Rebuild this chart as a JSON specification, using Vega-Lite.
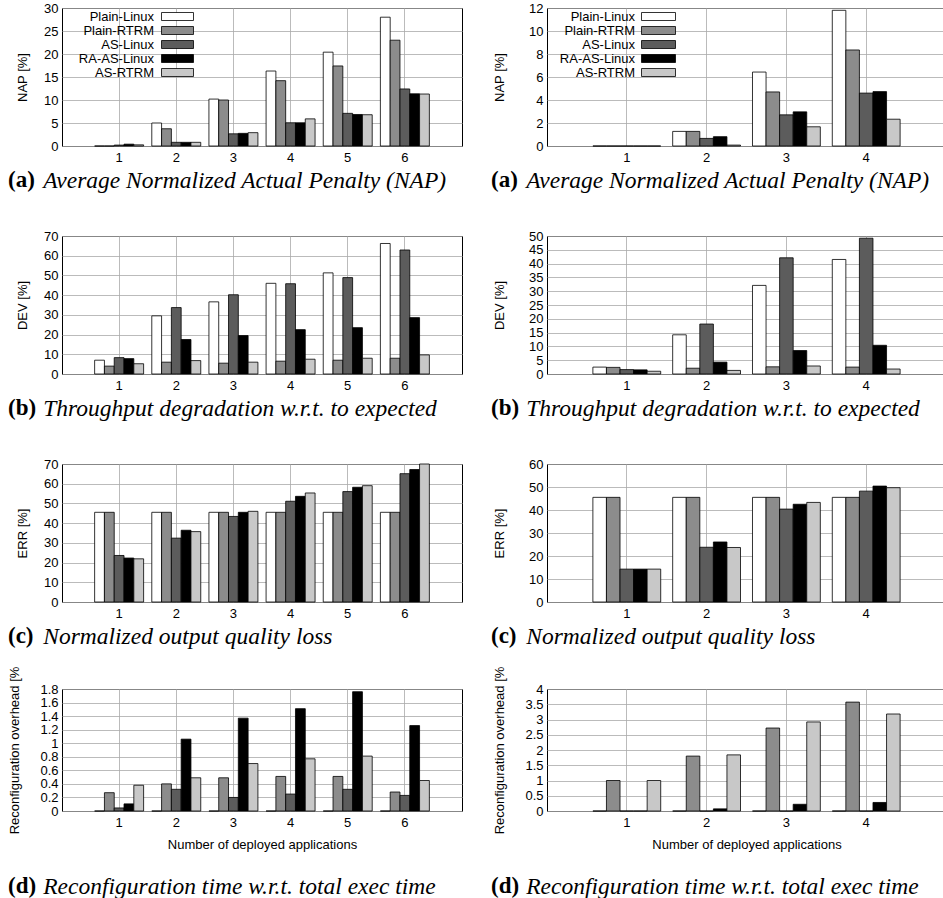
{
 "$schema": "https://vega.github.io/schema/vega-lite/v6.json",
 "padding": {"left": 7, "top": 1, "right": 0, "bottom": 0},
 "background": "white",
 "config": {
  "font": "Liberation Sans",
  "view": {"stroke": "black", "strokeWidth": 1},
  "axis": {"labelFont": "Liberation Sans", "labelFontSize": 13, "labelColor": "black", "titleFont": "Liberation Sans", "titleFontSize": 13, "titleFontWeight": "normal", "titleColor": "black", "gridColor": "#aaaaaa", "gridWidth": 0.8, "domain": false, "ticks": false, "labelPadding": 4},
  "axisX": {"labelAngle": 0, "labelPadding": 5, "title": null, "grid": true, "bandPosition": 0.5},
  "title": {"font": "Liberation Serif", "fontSize": 23, "fontWeight": "bold", "fontStyle": "normal", "subtitleFont": "Liberation Serif", "subtitleFontSize": 23.5, "subtitleFontStyle": "italic", "subtitleFontWeight": "normal", "subtitlePadding": -23.3, "orient": "bottom", "anchor": "start", "frame": "group", "color": "black", "subtitleColor": "black", "offset": 5},
  "bar": {"stroke": "black", "strokeWidth": 0.8}
 },
 "datasets": {
  "nap6": [
   {"n":1,"s":"Plain-Linux","v":0},{"n":1,"s":"Plain-RTRM","v":0},{"n":1,"s":"AS-Linux","v":0.2},{"n":1,"s":"RA-AS-Linux","v":0.4},{"n":1,"s":"AS-RTRM","v":0.25},
   {"n":2,"s":"Plain-Linux","v":5.0},{"n":2,"s":"Plain-RTRM","v":3.75},{"n":2,"s":"AS-Linux","v":0.8},{"n":2,"s":"RA-AS-Linux","v":0.8},{"n":2,"s":"AS-RTRM","v":0.8},
   {"n":3,"s":"Plain-Linux","v":10.2},{"n":3,"s":"Plain-RTRM","v":10.0},{"n":3,"s":"AS-Linux","v":2.65},{"n":3,"s":"RA-AS-Linux","v":2.75},{"n":3,"s":"AS-RTRM","v":2.9},
   {"n":4,"s":"Plain-Linux","v":16.3},{"n":4,"s":"Plain-RTRM","v":14.2},{"n":4,"s":"AS-Linux","v":5.05},{"n":4,"s":"RA-AS-Linux","v":5.05},{"n":4,"s":"AS-RTRM","v":5.9},
   {"n":5,"s":"Plain-Linux","v":20.4},{"n":5,"s":"Plain-RTRM","v":17.4},{"n":5,"s":"AS-Linux","v":7.1},{"n":5,"s":"RA-AS-Linux","v":6.85},{"n":5,"s":"AS-RTRM","v":6.8},
   {"n":6,"s":"Plain-Linux","v":28.0},{"n":6,"s":"Plain-RTRM","v":23.0},{"n":6,"s":"AS-Linux","v":12.4},{"n":6,"s":"RA-AS-Linux","v":11.35},{"n":6,"s":"AS-RTRM","v":11.3}
  ],
  "nap4": [
   {"n":1,"s":"Plain-Linux","v":0},{"n":1,"s":"Plain-RTRM","v":0},{"n":1,"s":"AS-Linux","v":0},{"n":1,"s":"RA-AS-Linux","v":0},{"n":1,"s":"AS-RTRM","v":0},
   {"n":2,"s":"Plain-Linux","v":1.27},{"n":2,"s":"Plain-RTRM","v":1.27},{"n":2,"s":"AS-Linux","v":0.66},{"n":2,"s":"RA-AS-Linux","v":0.81},{"n":2,"s":"AS-RTRM","v":0.08},
   {"n":3,"s":"Plain-Linux","v":6.43},{"n":3,"s":"Plain-RTRM","v":4.7},{"n":3,"s":"AS-Linux","v":2.71},{"n":3,"s":"RA-AS-Linux","v":2.97},{"n":3,"s":"AS-RTRM","v":1.67},
   {"n":4,"s":"Plain-Linux","v":11.8},{"n":4,"s":"Plain-RTRM","v":8.35},{"n":4,"s":"AS-Linux","v":4.6},{"n":4,"s":"RA-AS-Linux","v":4.73},{"n":4,"s":"AS-RTRM","v":2.33}
  ],
  "dev6": [
   {"n":1,"s":"Plain-Linux","v":7.0},{"n":1,"s":"Plain-RTRM","v":4.0},{"n":1,"s":"AS-Linux","v":8.3},{"n":1,"s":"RA-AS-Linux","v":7.8},{"n":1,"s":"AS-RTRM","v":5.2},
   {"n":2,"s":"Plain-Linux","v":29.5},{"n":2,"s":"Plain-RTRM","v":6.0},{"n":2,"s":"AS-Linux","v":33.7},{"n":2,"s":"RA-AS-Linux","v":17.5},{"n":2,"s":"AS-RTRM","v":6.8},
   {"n":3,"s":"Plain-Linux","v":36.6},{"n":3,"s":"Plain-RTRM","v":5.5},{"n":3,"s":"AS-Linux","v":40.2},{"n":3,"s":"RA-AS-Linux","v":19.5},{"n":3,"s":"AS-RTRM","v":6.0},
   {"n":4,"s":"Plain-Linux","v":46.0},{"n":4,"s":"Plain-RTRM","v":6.5},{"n":4,"s":"AS-Linux","v":45.8},{"n":4,"s":"RA-AS-Linux","v":22.5},{"n":4,"s":"AS-RTRM","v":7.5},
   {"n":5,"s":"Plain-Linux","v":51.3},{"n":5,"s":"Plain-RTRM","v":7.0},{"n":5,"s":"AS-Linux","v":48.9},{"n":5,"s":"RA-AS-Linux","v":23.5},{"n":5,"s":"AS-RTRM","v":8.0},
   {"n":6,"s":"Plain-Linux","v":66.2},{"n":6,"s":"Plain-RTRM","v":8.0},{"n":6,"s":"AS-Linux","v":62.9},{"n":6,"s":"RA-AS-Linux","v":28.6},{"n":6,"s":"AS-RTRM","v":9.7}
  ],
  "dev4": [
   {"n":1,"s":"Plain-Linux","v":2.5},{"n":1,"s":"Plain-RTRM","v":2.4},{"n":1,"s":"AS-Linux","v":1.6},{"n":1,"s":"RA-AS-Linux","v":1.5},{"n":1,"s":"AS-RTRM","v":1.0},
   {"n":2,"s":"Plain-Linux","v":14.2},{"n":2,"s":"Plain-RTRM","v":2.1},{"n":2,"s":"AS-Linux","v":18.1},{"n":2,"s":"RA-AS-Linux","v":4.3},{"n":2,"s":"AS-RTRM","v":1.3},
   {"n":3,"s":"Plain-Linux","v":32.1},{"n":3,"s":"Plain-RTRM","v":2.6},{"n":3,"s":"AS-Linux","v":42.1},{"n":3,"s":"RA-AS-Linux","v":8.5},{"n":3,"s":"AS-RTRM","v":2.9},
   {"n":4,"s":"Plain-Linux","v":41.5},{"n":4,"s":"Plain-RTRM","v":2.5},{"n":4,"s":"AS-Linux","v":49.2},{"n":4,"s":"RA-AS-Linux","v":10.4},{"n":4,"s":"AS-RTRM","v":1.8}
  ],
  "err6": [
   {"n":1,"s":"Plain-Linux","v":45.5},{"n":1,"s":"Plain-RTRM","v":45.5},{"n":1,"s":"AS-Linux","v":23.6},{"n":1,"s":"RA-AS-Linux","v":22.3},{"n":1,"s":"AS-RTRM","v":21.9},
   {"n":2,"s":"Plain-Linux","v":45.5},{"n":2,"s":"Plain-RTRM","v":45.5},{"n":2,"s":"AS-Linux","v":32.4},{"n":2,"s":"RA-AS-Linux","v":36.4},{"n":2,"s":"AS-RTRM","v":35.7},
   {"n":3,"s":"Plain-Linux","v":45.5},{"n":3,"s":"Plain-RTRM","v":45.5},{"n":3,"s":"AS-Linux","v":43.4},{"n":3,"s":"RA-AS-Linux","v":45.5},{"n":3,"s":"AS-RTRM","v":46.0},
   {"n":4,"s":"Plain-Linux","v":45.5},{"n":4,"s":"Plain-RTRM","v":45.5},{"n":4,"s":"AS-Linux","v":51.1},{"n":4,"s":"RA-AS-Linux","v":53.6},{"n":4,"s":"AS-RTRM","v":55.3},
   {"n":5,"s":"Plain-Linux","v":45.5},{"n":5,"s":"Plain-RTRM","v":45.5},{"n":5,"s":"AS-Linux","v":56.0},{"n":5,"s":"RA-AS-Linux","v":58.2},{"n":5,"s":"AS-RTRM","v":59.0},
   {"n":6,"s":"Plain-Linux","v":45.5},{"n":6,"s":"Plain-RTRM","v":45.5},{"n":6,"s":"AS-Linux","v":65.1},{"n":6,"s":"RA-AS-Linux","v":67.2},{"n":6,"s":"AS-RTRM","v":70.0}
  ],
  "err4": [
   {"n":1,"s":"Plain-Linux","v":45.5},{"n":1,"s":"Plain-RTRM","v":45.5},{"n":1,"s":"AS-Linux","v":14.3},{"n":1,"s":"RA-AS-Linux","v":14.3},{"n":1,"s":"AS-RTRM","v":14.3},
   {"n":2,"s":"Plain-Linux","v":45.5},{"n":2,"s":"Plain-RTRM","v":45.5},{"n":2,"s":"AS-Linux","v":23.8},{"n":2,"s":"RA-AS-Linux","v":26.1},{"n":2,"s":"AS-RTRM","v":23.7},
   {"n":3,"s":"Plain-Linux","v":45.5},{"n":3,"s":"Plain-RTRM","v":45.5},{"n":3,"s":"AS-Linux","v":40.4},{"n":3,"s":"RA-AS-Linux","v":42.5},{"n":3,"s":"AS-RTRM","v":43.3},
   {"n":4,"s":"Plain-Linux","v":45.5},{"n":4,"s":"Plain-RTRM","v":45.5},{"n":4,"s":"AS-Linux","v":48.2},{"n":4,"s":"RA-AS-Linux","v":50.4},{"n":4,"s":"AS-RTRM","v":49.7}
  ],
  "rc6": [
   {"n":1,"s":"Plain-Linux","v":0},{"n":1,"s":"Plain-RTRM","v":0.27},{"n":1,"s":"AS-Linux","v":0.045},{"n":1,"s":"RA-AS-Linux","v":0.105},{"n":1,"s":"AS-RTRM","v":0.38},
   {"n":2,"s":"Plain-Linux","v":0},{"n":2,"s":"Plain-RTRM","v":0.4},{"n":2,"s":"AS-Linux","v":0.32},{"n":2,"s":"RA-AS-Linux","v":1.06},{"n":2,"s":"AS-RTRM","v":0.49},
   {"n":3,"s":"Plain-Linux","v":0},{"n":3,"s":"Plain-RTRM","v":0.49},{"n":3,"s":"AS-Linux","v":0.2},{"n":3,"s":"RA-AS-Linux","v":1.37},{"n":3,"s":"AS-RTRM","v":0.7},
   {"n":4,"s":"Plain-Linux","v":0},{"n":4,"s":"Plain-RTRM","v":0.51},{"n":4,"s":"AS-Linux","v":0.25},{"n":4,"s":"RA-AS-Linux","v":1.51},{"n":4,"s":"AS-RTRM","v":0.77},
   {"n":5,"s":"Plain-Linux","v":0},{"n":5,"s":"Plain-RTRM","v":0.51},{"n":5,"s":"AS-Linux","v":0.32},{"n":5,"s":"RA-AS-Linux","v":1.76},{"n":5,"s":"AS-RTRM","v":0.81},
   {"n":6,"s":"Plain-Linux","v":0},{"n":6,"s":"Plain-RTRM","v":0.28},{"n":6,"s":"AS-Linux","v":0.23},{"n":6,"s":"RA-AS-Linux","v":1.26},{"n":6,"s":"AS-RTRM","v":0.45}
  ],
  "rc4": [
   {"n":1,"s":"Plain-Linux","v":0},{"n":1,"s":"Plain-RTRM","v":1.0},{"n":1,"s":"AS-Linux","v":0},{"n":1,"s":"RA-AS-Linux","v":0},{"n":1,"s":"AS-RTRM","v":1.0},
   {"n":2,"s":"Plain-Linux","v":0},{"n":2,"s":"Plain-RTRM","v":1.8},{"n":2,"s":"AS-Linux","v":0},{"n":2,"s":"RA-AS-Linux","v":0.07},{"n":2,"s":"AS-RTRM","v":1.84},
   {"n":3,"s":"Plain-Linux","v":0},{"n":3,"s":"Plain-RTRM","v":2.72},{"n":3,"s":"AS-Linux","v":0},{"n":3,"s":"RA-AS-Linux","v":0.22},{"n":3,"s":"AS-RTRM","v":2.92},
   {"n":4,"s":"Plain-Linux","v":0},{"n":4,"s":"Plain-RTRM","v":3.57},{"n":4,"s":"AS-Linux","v":0},{"n":4,"s":"RA-AS-Linux","v":0.28},{"n":4,"s":"AS-RTRM","v":3.18}
  ]
 },
 "resolve": {"scale": {"fill": "independent", "xOffset": "independent"}, "legend": {"fill": "independent"}},
 "spacing": 16,
 "vconcat": [
  {
   "spacing": 36,
   "resolve": {"scale": {"fill": "independent", "xOffset": "independent"}, "legend": {"fill": "independent"}},
   "vconcat": [
    {
     "spacing": 27,
     "resolve": {"scale": {"fill": "independent", "xOffset": "independent"}, "legend": {"fill": "independent"}},
     "hconcat": [
      {
       "width": 400, "height": 138,
       "data": {"name": "nap6"},
       "mark": "bar",
       "title": {"text": "(a)", "subtitle": "\u200b\u00a0\u00a0\u00a0\u00a0\u00a0\u00a0Average Normalized Actual Penalty (NAP)", "dx": -54},
       "encoding": {
        "x": {"field": "n", "type": "ordinal", "scale": {"paddingInner": 0.143, "paddingOuter": 0.571}},
        "xOffset": {"field": "s", "type": "nominal", "scale": {"domain": ["Plain-Linux","Plain-RTRM","AS-Linux","RA-AS-Linux","AS-RTRM"], "paddingInner": 0, "paddingOuter": 0}},
        "y": {"field": "v", "type": "quantitative", "scale": {"domain": [0, 30], "nice": false}, "axis": {"values": [0,5,10,15,20,25,30], "title": "NAP [%]", "minExtent": 22, "maxExtent": 22, "titlePadding": 11}},
        "fill": {"field": "s", "type": "nominal", "scale": {"domain": ["Plain-Linux","Plain-RTRM","AS-Linux","RA-AS-Linux","AS-RTRM"], "range": ["#ffffff","#8c8c8c","#5c5c5c","#000000","#c8c8c8"]},
         "legend": {"orient": "none", "legendX": 109, "legendY": 2, "title": null, "symbolType": "M-4,-1H4V1H-4Z", "symbolSize": 64, "symbolStrokeColor": "black", "symbolStrokeWidth": 1, "labelAlign": "right", "labelOffset": -30, "labelFontSize": 13, "labelFont": "Liberation Sans", "labelColor": "black", "rowPadding": -1.5, "padding": 0}}
       }
      },
      {
       "width": 399, "height": 138,
       "data": {"name": "nap4"},
       "mark": "bar",
       "title": {"text": "(a)", "subtitle": "\u200b\u00a0\u00a0\u00a0\u00a0\u00a0\u00a0Average Normalized Actual Penalty (NAP)", "dx": -56},
       "encoding": {
        "x": {"field": "n", "type": "ordinal", "scale": {"paddingInner": 0.15, "paddingOuter": 0.575}},
        "xOffset": {"field": "s", "type": "nominal", "scale": {"domain": ["Plain-Linux","Plain-RTRM","AS-Linux","RA-AS-Linux","AS-RTRM"], "paddingInner": 0, "paddingOuter": 0}},
        "y": {"field": "v", "type": "quantitative", "scale": {"domain": [0, 12], "nice": false}, "axis": {"values": [0,2,4,6,8,10,12], "title": "NAP [%]", "minExtent": 26, "maxExtent": 26, "titlePadding": 15}},
        "fill": {"field": "s", "type": "nominal", "scale": {"domain": ["Plain-Linux","Plain-RTRM","AS-Linux","RA-AS-Linux","AS-RTRM"], "range": ["#ffffff","#8c8c8c","#5c5c5c","#000000","#c8c8c8"]},
         "legend": {"orient": "none", "legendX": 105, "legendY": 2, "title": null, "symbolType": "M-4.25,-1H4.25V1H-4.25Z", "symbolSize": 64, "symbolStrokeColor": "black", "symbolStrokeWidth": 1, "labelAlign": "right", "labelOffset": -30, "labelFontSize": 13, "labelFont": "Liberation Sans", "labelColor": "black", "rowPadding": -1.5, "padding": 0}}
       }
      }
     ]
    },
    {
     "spacing": 27,
     "resolve": {"scale": {"fill": "independent", "xOffset": "independent"}, "legend": {"fill": "independent"}},
     "hconcat": [
      {
       "width": 400, "height": 138,
       "data": {"name": "dev6"},
       "mark": "bar",
       "title": {"text": "(b)", "subtitle": "\u200b\u00a0\u00a0\u00a0\u00a0\u00a0\u00a0Throughput degradation w.r.t. to expected", "dx": -54},
       "encoding": {
        "x": {"field": "n", "type": "ordinal", "scale": {"paddingInner": 0.143, "paddingOuter": 0.571}},
        "xOffset": {"field": "s", "type": "nominal", "scale": {"domain": ["Plain-Linux","Plain-RTRM","AS-Linux","RA-AS-Linux","AS-RTRM"], "paddingInner": 0, "paddingOuter": 0}},
        "y": {"field": "v", "type": "quantitative", "scale": {"domain": [0, 70], "nice": false}, "axis": {"values": [0,10,20,30,40,50,60,70], "title": "DEV [%]", "minExtent": 22, "maxExtent": 22, "titlePadding": 11}},
        "fill": {"field": "s", "type": "nominal", "scale": {"domain": ["Plain-Linux","Plain-RTRM","AS-Linux","RA-AS-Linux","AS-RTRM"], "range": ["#ffffff","#8c8c8c","#5c5c5c","#000000","#c8c8c8"]}, "legend": null}
       }
      },
      {
       "width": 399, "height": 138,
       "data": {"name": "dev4"},
       "mark": "bar",
       "title": {"text": "(b)", "subtitle": "\u200b\u00a0\u00a0\u00a0\u00a0\u00a0\u00a0Throughput degradation w.r.t. to expected", "dx": -56},
       "encoding": {
        "x": {"field": "n", "type": "ordinal", "scale": {"paddingInner": 0.15, "paddingOuter": 0.575}},
        "xOffset": {"field": "s", "type": "nominal", "scale": {"domain": ["Plain-Linux","Plain-RTRM","AS-Linux","RA-AS-Linux","AS-RTRM"], "paddingInner": 0, "paddingOuter": 0}},
        "y": {"field": "v", "type": "quantitative", "scale": {"domain": [0, 50], "nice": false}, "axis": {"values": [0,5,10,15,20,25,30,35,40,45,50], "title": "DEV [%]", "minExtent": 26, "maxExtent": 26, "titlePadding": 15}},
        "fill": {"field": "s", "type": "nominal", "scale": {"domain": ["Plain-Linux","Plain-RTRM","AS-Linux","RA-AS-Linux","AS-RTRM"], "range": ["#ffffff","#8c8c8c","#5c5c5c","#000000","#c8c8c8"]}, "legend": null}
       }
      }
     ]
    },
    {
     "spacing": 27,
     "resolve": {"scale": {"fill": "independent", "xOffset": "independent"}, "legend": {"fill": "independent"}},
     "hconcat": [
      {
       "width": 400, "height": 138,
       "data": {"name": "err6"},
       "mark": "bar",
       "title": {"text": "(c)", "subtitle": "\u200b\u00a0\u00a0\u00a0\u00a0\u00a0\u00a0Normalized output quality loss", "dx": -54},
       "encoding": {
        "x": {"field": "n", "type": "ordinal", "scale": {"paddingInner": 0.143, "paddingOuter": 0.571}},
        "xOffset": {"field": "s", "type": "nominal", "scale": {"domain": ["Plain-Linux","Plain-RTRM","AS-Linux","RA-AS-Linux","AS-RTRM"], "paddingInner": 0, "paddingOuter": 0}},
        "y": {"field": "v", "type": "quantitative", "scale": {"domain": [0, 70], "nice": false}, "axis": {"values": [0,10,20,30,40,50,60,70], "title": "ERR [%]", "minExtent": 22, "maxExtent": 22, "titlePadding": 11}},
        "fill": {"field": "s", "type": "nominal", "scale": {"domain": ["Plain-Linux","Plain-RTRM","AS-Linux","RA-AS-Linux","AS-RTRM"], "range": ["#ffffff","#8c8c8c","#5c5c5c","#000000","#c8c8c8"]}, "legend": null}
       }
      },
      {
       "width": 399, "height": 138,
       "data": {"name": "err4"},
       "mark": "bar",
       "title": {"text": "(c)", "subtitle": "\u200b\u00a0\u00a0\u00a0\u00a0\u00a0\u00a0Normalized output quality loss", "dx": -56},
       "encoding": {
        "x": {"field": "n", "type": "ordinal", "scale": {"paddingInner": 0.15, "paddingOuter": 0.575}},
        "xOffset": {"field": "s", "type": "nominal", "scale": {"domain": ["Plain-Linux","Plain-RTRM","AS-Linux","RA-AS-Linux","AS-RTRM"], "paddingInner": 0, "paddingOuter": 0}},
        "y": {"field": "v", "type": "quantitative", "scale": {"domain": [0, 60], "nice": false}, "axis": {"values": [0,10,20,30,40,50,60], "title": "ERR [%]", "minExtent": 26, "maxExtent": 26, "titlePadding": 15}},
        "fill": {"field": "s", "type": "nominal", "scale": {"domain": ["Plain-Linux","Plain-RTRM","AS-Linux","RA-AS-Linux","AS-RTRM"], "range": ["#ffffff","#8c8c8c","#5c5c5c","#000000","#c8c8c8"]}, "legend": null}
       }
      }
     ]
    }
   ]
  },
  {
   "spacing": 27,
   "resolve": {"scale": {"fill": "independent", "xOffset": "independent"}, "legend": {"fill": "independent"}},
   "hconcat": [
    {
     "width": 400, "height": 122,
     "data": {"name": "rc6"},
     "mark": "bar",
     "title": {"text": "(d)", "subtitle": "\u200b\u00a0\u00a0\u00a0\u00a0\u00a0\u00a0Reconfiguration time w.r.t. total exec time", "dx": -54, "offset": 24},
     "encoding": {
      "x": {"field": "n", "type": "ordinal", "scale": {"paddingInner": 0.143, "paddingOuter": 0.571}, "axis": {"title": "Number of deployed applications", "titlePadding": 9}},
      "xOffset": {"field": "s", "type": "nominal", "scale": {"domain": ["Plain-Linux","Plain-RTRM","AS-Linux","RA-AS-Linux","AS-RTRM"], "paddingInner": 0, "paddingOuter": 0}},
      "y": {"field": "v", "type": "quantitative", "scale": {"domain": [0, 1.8], "nice": false}, "axis": {"values": [0,0.2,0.4,0.6,0.8,1,1.2,1.4,1.6,1.8], "format": "~g", "title": "Reconfiguration overhead [%", "minExtent": 26, "maxExtent": 26, "titlePadding": 15}},
      "fill": {"field": "s", "type": "nominal", "scale": {"domain": ["Plain-Linux","Plain-RTRM","AS-Linux","RA-AS-Linux","AS-RTRM"], "range": ["#ffffff","#8c8c8c","#5c5c5c","#000000","#c8c8c8"]}, "legend": null}
     }
    },
    {
     "width": 399, "height": 122,
     "data": {"name": "rc4"},
     "mark": "bar",
     "title": {"text": "(d)", "subtitle": "\u200b\u00a0\u00a0\u00a0\u00a0\u00a0\u00a0Reconfiguration time w.r.t. total exec time", "dx": -56, "offset": 24},
     "encoding": {
      "x": {"field": "n", "type": "ordinal", "scale": {"paddingInner": 0.15, "paddingOuter": 0.575}, "axis": {"title": "Number of deployed applications", "titlePadding": 9}},
      "xOffset": {"field": "s", "type": "nominal", "scale": {"domain": ["Plain-Linux","Plain-RTRM","AS-Linux","RA-AS-Linux","AS-RTRM"], "paddingInner": 0, "paddingOuter": 0}},
      "y": {"field": "v", "type": "quantitative", "scale": {"domain": [0, 4], "nice": false}, "axis": {"values": [0,0.5,1,1.5,2,2.5,3,3.5,4], "format": "~g", "title": "Reconfiguration overhead [%", "minExtent": 26, "maxExtent": 26, "titlePadding": 15}},
      "fill": {"field": "s", "type": "nominal", "scale": {"domain": ["Plain-Linux","Plain-RTRM","AS-Linux","RA-AS-Linux","AS-RTRM"], "range": ["#ffffff","#8c8c8c","#5c5c5c","#000000","#c8c8c8"]}, "legend": null}
     }
    }
   ]
  }
 ]
}
